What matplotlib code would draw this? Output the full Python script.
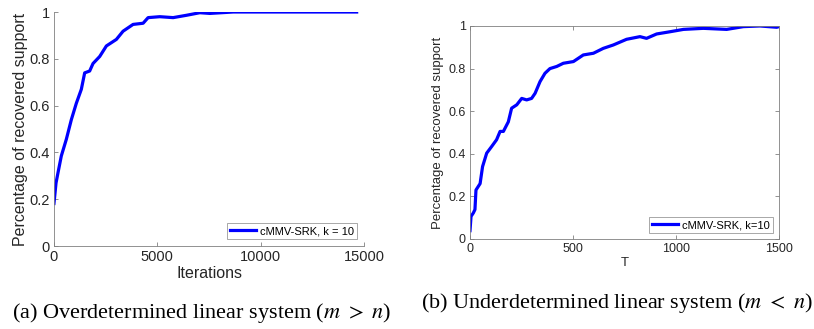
import matplotlib.pyplot as plt

# (a) overdetermined: iterations vs recovered support
iters_a = [0, 100, 194, 355, 597, 840, 1081, 1324, 1485, 1727, 1889, 2212, 2535,
           3019, 3342, 3826, 4311, 4553, 5117, 5763, 6409, 7055, 7540, 8670, 14640]
supp_a = [0.182, 0.27, 0.313, 0.385, 0.456, 0.54, 0.61, 0.67, 0.74, 0.748, 0.78, 0.81,
          0.855, 0.883, 0.918, 0.947, 0.952, 0.976, 0.98, 0.976, 0.986, 0.997, 0.994,
          1.0, 1.0]

# (b) underdetermined: T vs recovered support
T_b = [0, 5, 16, 24, 29, 49, 61, 81, 105, 129, 146, 162, 186, 202, 227, 251, 275,
       299, 316, 340, 364, 388, 421, 453, 502, 550, 599, 647, 696, 760, 825, 857,
       906, 971, 1036, 1133, 1246, 1327, 1408, 1489, 1500]
supp_b = [0.039, 0.106, 0.122, 0.138, 0.23, 0.26, 0.34, 0.403, 0.434, 0.466, 0.505,
          0.505, 0.55, 0.614, 0.63, 0.66, 0.653, 0.66, 0.684, 0.739, 0.778, 0.80,
          0.81, 0.825, 0.833, 0.864, 0.872, 0.895, 0.911, 0.9375, 0.95, 0.942,
          0.9625, 0.973, 0.984, 0.989, 0.984, 0.997, 1.0, 0.994, 0.997]

plt.rcParams['font.family'] = 'Liberation Sans'
plt.rcParams['mathtext.fontset'] = 'stix'
axcol = '#262626'

fig = plt.figure(figsize=(8.14, 3.29), dpi=100)

# left panel
ax1 = fig.add_axes([0.0663, 0.252, 0.381, 0.7115])
ax1.plot(iters_a, supp_a, color='#0000ff', lw=2.3, label='cMMV-SRK, k = 10')
ax1.set_xlim(0, 15000)
ax1.set_ylim(0, 1)
ax1.set_xticks([0, 5000, 10000, 15000])
ax1.set_yticks([0, 0.2, 0.4, 0.6, 0.8, 1])
ax1.set_yticklabels(['0', '0.2', '0.4', '0.6', '0.8', '1'])
ax1.spines['top'].set_visible(False)
ax1.spines['right'].set_visible(False)
for s in ax1.spines.values():
    s.set_color('#808080')
    s.set_linewidth(0.6)
ax1.tick_params(direction='in', length=3, width=0.6, color='#808080',
                labelcolor=axcol, labelsize=10.5, pad=3)
ax1.set_xlabel('Iterations', fontsize=11.5, color=axcol, labelpad=1)
ax1.set_ylabel('Percentage of recovered support', fontsize=11.5, color=axcol, labelpad=1)
leg1 = ax1.legend(loc='lower right', fontsize=8, handlelength=2.3, fancybox=False,
                  borderaxespad=0.6, borderpad=0.3, handletextpad=0.4)
leg1.get_frame().set_edgecolor('#808080')
leg1.get_frame().set_linewidth(0.6)

# right panel
ax2 = fig.add_axes([0.5774, 0.2736, 0.3796, 0.6474])
ax2.plot(T_b, supp_b, color='#0000ff', lw=2.3, label='cMMV-SRK, k=10')
ax2.set_xlim(0, 1500)
ax2.set_ylim(0, 1)
ax2.set_xticks([0, 500, 1000, 1500])
ax2.set_yticks([0, 0.2, 0.4, 0.6, 0.8, 1])
ax2.set_yticklabels(['0', '0.2', '0.4', '0.6', '0.8', '1'])
for s in ax2.spines.values():
    s.set_color('#808080')
    s.set_linewidth(0.6)
ax2.tick_params(direction='in', length=3, width=0.6, color='#808080',
                labelcolor=axcol, labelsize=9, pad=3, top=True, right=True)
ax2.set_xlabel('T', fontsize=9.5, color=axcol, labelpad=1)
ax2.set_ylabel('Percentage of recovered support', fontsize=9.5, color=axcol, labelpad=3)
leg2 = ax2.legend(loc='lower right', fontsize=8, handlelength=2.3, fancybox=False,
                  borderaxespad=0.5, borderpad=0.3, handletextpad=0.4)
leg2.get_frame().set_edgecolor('#808080')
leg2.get_frame().set_linewidth(0.6)

# captions
fig.text(0.248, 1 - 313 / 329, r'(a) Overdetermined linear system ($m\ >\ n$)',
         family='Liberation Serif', fontsize=16, ha='center', va='center')
fig.text(0.758, 1 - 303 / 329, r'(b) Underdetermined linear system ($m\ <\ n$)',
         family='Liberation Serif', fontsize=16, ha='center', va='center')

fig.savefig('out.png', dpi=100)
